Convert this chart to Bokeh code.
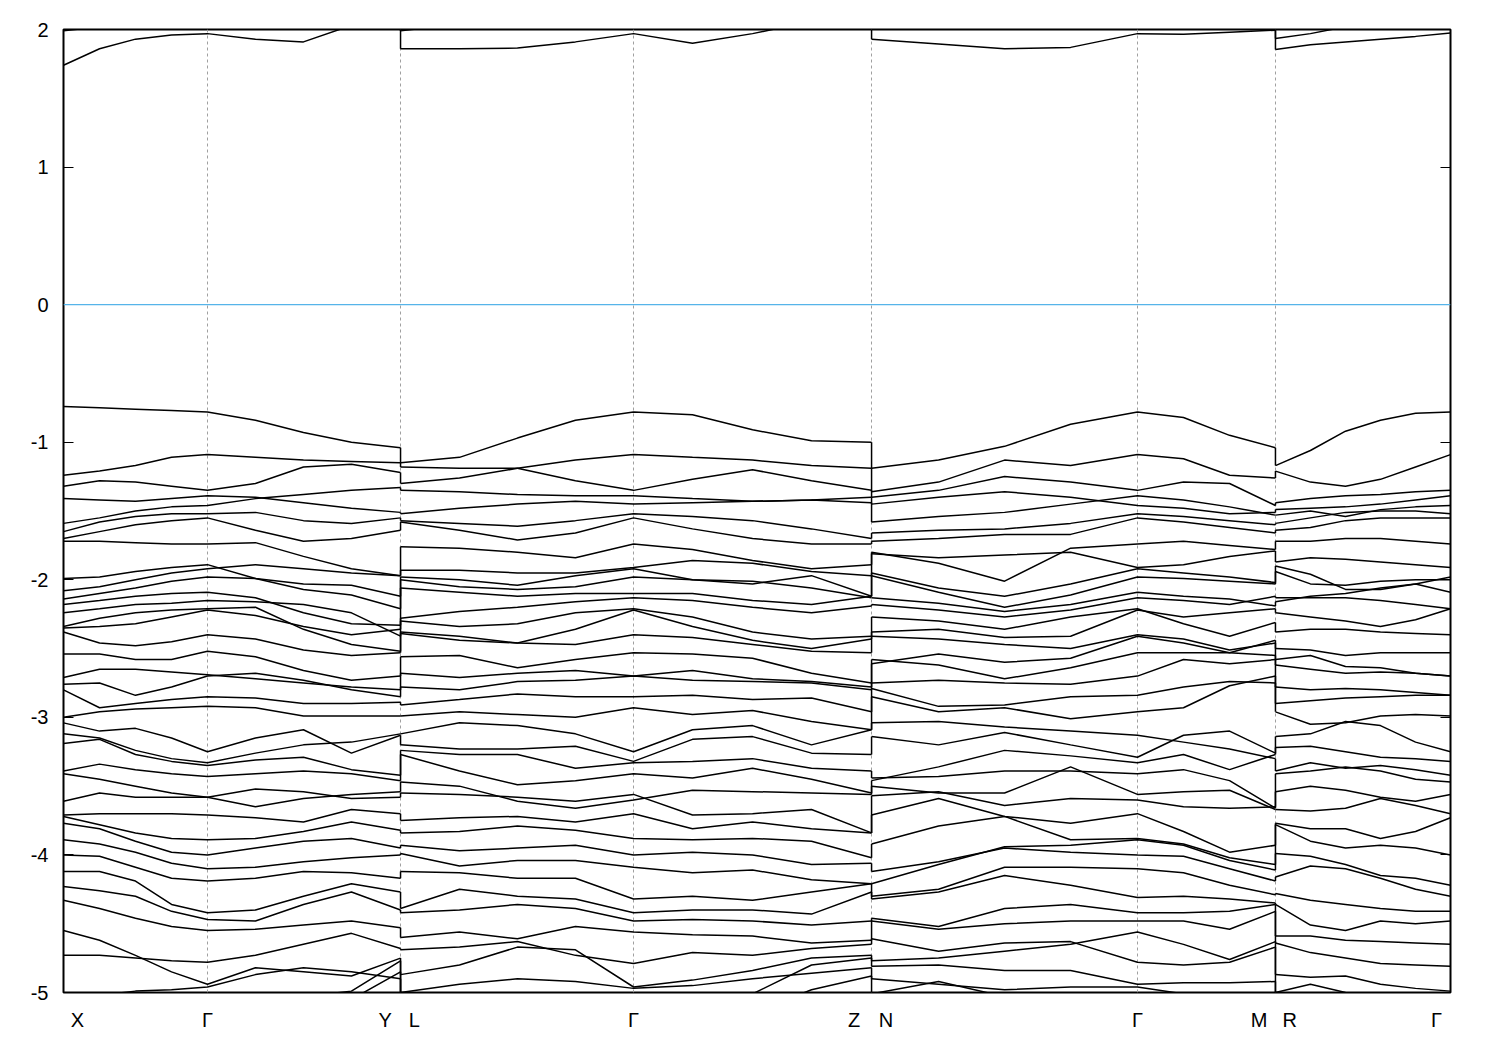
from bokeh.plotting import figure
from bokeh.models import FixedTicker, LinearAxis, Span
from bokeh.embed import file_html
from bokeh.resources import INLINE

# ---- k-path (path coordinate) ----
k_seg1 = [0.0, 0.26, 0.519, 0.779, 1.038, 1.384, 1.730, 2.076, 2.430]      # X - G - Y
k_seg2 = [2.430, 2.855, 3.273, 3.691, 4.110, 4.535, 4.968, 5.393, 5.826]   # L - G - Z
k_seg3 = [5.826, 6.309, 6.785, 7.261, 7.743, 8.075, 8.407, 8.738]          # N - G - M
k_seg4 = [8.738, 8.990, 9.243, 9.495, 9.748, 10.0]                         # R - G

grid_k = [1.038, 2.430, 4.110, 5.826, 7.743, 8.738]
label_k = [0.10, 1.038, 2.32, 2.53, 4.110, 5.70, 5.93, 7.743, 8.62, 8.84, 9.90]
label_txt = ["X", "Γ", "Y", "L", "Γ", "Z", "N", "Γ", "M", "R", "Γ"]
y_ticks = [-5, -4, -3, -2, -1, 0, 1, 2]

# ---- valence bands (eV) ----
seg1_bands = [
    [-0.74,-0.75,-0.76,-0.77,-0.78,-0.84,-0.93,-1.00,-1.04],
    [-1.24,-1.21,-1.17,-1.11,-1.09,-1.11,-1.13,-1.14,-1.15],
    [-1.32,-1.28,-1.29,-1.32,-1.35,-1.30,-1.18,-1.16,-1.22],
    [-1.41,-1.42,-1.43,-1.41,-1.39,-1.40,-1.44,-1.48,-1.51],
    [-1.59,-1.55,-1.50,-1.47,-1.46,-1.41,-1.38,-1.35,-1.33],
    [-1.65,-1.58,-1.54,-1.52,-1.52,-1.51,-1.57,-1.59,-1.55],
    [-1.70,-1.65,-1.60,-1.57,-1.55,-1.64,-1.72,-1.70,-1.64],
    [-1.72,-1.72,-1.73,-1.74,-1.74,-1.73,-1.83,-1.92,-1.97],
    [-1.99,-1.98,-1.94,-1.91,-1.89,-1.99,-2.03,-2.04,-2.12],
    [-2.08,-2.05,-2.00,-1.95,-1.92,-1.89,-1.92,-1.95,-1.97],
    [-2.14,-2.10,-2.06,-2.01,-1.98,-1.99,-2.07,-2.11,-2.21],
    [-2.18,-2.15,-2.12,-2.10,-2.09,-2.13,-2.24,-2.32,-2.33],
    [-2.24,-2.21,-2.18,-2.17,-2.15,-2.16,-2.18,-2.24,-2.41],
    [-2.34,-2.28,-2.24,-2.22,-2.21,-2.20,-2.36,-2.47,-2.52],
    [-2.35,-2.34,-2.32,-2.27,-2.22,-2.26,-2.34,-2.40,-2.36],
    [-2.38,-2.46,-2.48,-2.45,-2.40,-2.43,-2.51,-2.55,-2.53],
    [-2.54,-2.54,-2.58,-2.58,-2.52,-2.56,-2.66,-2.73,-2.70],
    [-2.71,-2.65,-2.65,-2.67,-2.69,-2.72,-2.75,-2.78,-2.80],
    [-2.76,-2.75,-2.84,-2.78,-2.70,-2.68,-2.73,-2.80,-2.85],
    [-2.80,-2.93,-2.90,-2.87,-2.85,-2.86,-2.90,-2.90,-2.89],
    [-3.00,-2.96,-2.94,-2.93,-2.92,-2.93,-2.99,-2.99,-2.99],
    [-3.04,-3.10,-3.08,-3.15,-3.25,-3.15,-3.09,-3.26,-3.13],
    [-3.12,-3.15,-3.24,-3.30,-3.33,-3.26,-3.20,-3.18,-3.12],
    [-3.19,-3.16,-3.27,-3.32,-3.35,-3.31,-3.29,-3.38,-3.42],
    [-3.39,-3.34,-3.38,-3.41,-3.43,-3.41,-3.39,-3.41,-3.46],
    [-3.41,-3.45,-3.50,-3.55,-3.58,-3.52,-3.54,-3.59,-3.58],
    [-3.61,-3.55,-3.58,-3.58,-3.58,-3.65,-3.59,-3.56,-3.54],
    [-3.71,-3.70,-3.70,-3.70,-3.71,-3.73,-3.76,-3.67,-3.70],
    [-3.72,-3.78,-3.84,-3.88,-3.89,-3.88,-3.83,-3.76,-3.82],
    [-3.77,-3.81,-3.90,-3.98,-4.00,-3.95,-3.90,-3.88,-3.95],
    [-3.89,-3.92,-3.98,-4.06,-4.10,-4.09,-4.05,-4.02,-4.00],
    [-4.00,-4.01,-4.09,-4.17,-4.19,-4.17,-4.12,-4.13,-4.17],
    [-4.12,-4.12,-4.19,-4.36,-4.42,-4.40,-4.30,-4.21,-4.27],
    [-4.23,-4.26,-4.30,-4.41,-4.47,-4.48,-4.36,-4.27,-4.40],
    [-4.33,-4.39,-4.46,-4.52,-4.55,-4.54,-4.51,-4.48,-4.53],
    [-4.55,-4.62,-4.73,-4.85,-4.94,-4.82,-4.85,-4.88,-4.75],
    [-4.73,-4.73,-4.75,-4.77,-4.78,-4.73,-4.65,-4.57,-4.68],
    [-5.04,-5.02,-4.99,-4.98,-4.96,-4.87,-4.82,-4.85,-4.90],
    [-5.20,-5.20,-5.20,-5.18,-5.10,-5.06,-5.03,-4.99,-4.77],
    [-5.30,-5.30,-5.28,-5.25,-5.20,-5.15,-5.10,-5.05,-4.85],
]

seg2_bands = [
    [-1.15,-1.11,-0.97,-0.84,-0.78,-0.80,-0.91,-0.99,-1.00],
    [-1.18,-1.19,-1.19,-1.28,-1.35,-1.27,-1.20,-1.28,-1.35],
    [-1.30,-1.26,-1.19,-1.13,-1.09,-1.11,-1.13,-1.17,-1.19],
    [-1.35,-1.36,-1.38,-1.39,-1.39,-1.41,-1.43,-1.42,-1.40],
    [-1.52,-1.48,-1.45,-1.43,-1.45,-1.44,-1.43,-1.42,-1.44],
    [-1.57,-1.59,-1.61,-1.57,-1.52,-1.54,-1.57,-1.63,-1.70],
    [-1.58,-1.64,-1.71,-1.66,-1.55,-1.63,-1.70,-1.74,-1.74],
    [-1.76,-1.77,-1.80,-1.84,-1.74,-1.78,-1.86,-1.92,-1.89],
    [-1.93,-1.93,-1.95,-1.95,-1.91,-1.86,-1.88,-1.94,-1.97],
    [-1.98,-2.00,-2.04,-1.97,-1.92,-2.00,-2.03,-1.97,-2.12],
    [-2.00,-2.05,-2.07,-2.05,-1.98,-2.00,-2.01,-2.06,-2.13],
    [-2.06,-2.09,-2.12,-2.10,-2.10,-2.10,-2.15,-2.18,-2.12],
    [-2.28,-2.23,-2.20,-2.16,-2.13,-2.15,-2.20,-2.24,-2.19],
    [-2.30,-2.34,-2.32,-2.24,-2.21,-2.27,-2.38,-2.43,-2.41],
    [-2.38,-2.41,-2.46,-2.36,-2.22,-2.34,-2.44,-2.50,-2.43],
    [-2.39,-2.44,-2.46,-2.47,-2.40,-2.42,-2.47,-2.52,-2.53],
    [-2.56,-2.55,-2.64,-2.58,-2.53,-2.54,-2.57,-2.68,-2.75],
    [-2.68,-2.71,-2.68,-2.66,-2.70,-2.66,-2.72,-2.74,-2.78],
    [-2.78,-2.80,-2.74,-2.73,-2.70,-2.73,-2.74,-2.75,-2.80],
    [-2.91,-2.87,-2.83,-2.85,-2.85,-2.84,-2.87,-2.86,-2.96],
    [-2.99,-2.96,-2.98,-3.00,-2.93,-2.98,-2.95,-3.03,-3.09],
    [-3.12,-3.04,-3.06,-3.12,-3.25,-3.09,-3.06,-3.20,-3.09],
    [-3.20,-3.23,-3.23,-3.21,-3.32,-3.16,-3.14,-3.26,-3.27],
    [-3.24,-3.27,-3.27,-3.37,-3.33,-3.32,-3.30,-3.37,-3.39],
    [-3.27,-3.39,-3.49,-3.46,-3.41,-3.44,-3.37,-3.45,-3.55],
    [-3.47,-3.50,-3.61,-3.66,-3.60,-3.53,-3.54,-3.55,-3.56],
    [-3.55,-3.56,-3.58,-3.61,-3.56,-3.71,-3.70,-3.67,-3.84],
    [-3.75,-3.73,-3.72,-3.76,-3.70,-3.81,-3.76,-3.81,-3.84],
    [-3.84,-3.83,-3.79,-3.82,-3.88,-3.89,-3.88,-3.90,-4.02],
    [-3.93,-3.97,-3.95,-3.93,-4.00,-3.98,-4.00,-4.07,-4.06],
    [-3.99,-4.08,-4.04,-4.04,-4.09,-4.13,-4.11,-4.18,-4.21],
    [-4.12,-4.13,-4.17,-4.17,-4.32,-4.30,-4.33,-4.27,-4.21],
    [-4.39,-4.25,-4.30,-4.32,-4.42,-4.40,-4.40,-4.43,-4.27],
    [-4.42,-4.40,-4.36,-4.39,-4.48,-4.47,-4.48,-4.51,-4.48],
    [-4.60,-4.56,-4.61,-4.52,-4.56,-4.58,-4.59,-4.64,-4.62],
    [-4.69,-4.67,-4.63,-4.73,-4.79,-4.71,-4.73,-4.68,-4.65],
    [-4.87,-4.80,-4.67,-4.69,-4.96,-4.91,-4.84,-4.75,-4.73],
    [-5.00,-4.94,-4.90,-4.92,-4.97,-4.95,-4.90,-4.86,-4.82],
    [-5.20,-5.20,-5.20,-5.20,-5.20,-5.10,-5.01,-4.80,-4.75],
    [-5.30,-5.30,-5.30,-5.30,-5.30,-5.25,-5.15,-4.98,-4.88],
]

seg3_bands = [
    [-1.19,-1.13,-1.03,-0.87,-0.78,-0.82,-0.95,-1.04],
    [-1.36,-1.29,-1.13,-1.17,-1.09,-1.12,-1.24,-1.26],
    [-1.40,-1.35,-1.25,-1.29,-1.35,-1.29,-1.30,-1.46],
    [-1.58,-1.54,-1.51,-1.45,-1.39,-1.42,-1.47,-1.53],
    [-1.45,-1.40,-1.36,-1.40,-1.46,-1.48,-1.52,-1.51],
    [-1.66,-1.64,-1.63,-1.59,-1.52,-1.54,-1.57,-1.60],
    [-1.72,-1.70,-1.67,-1.67,-1.55,-1.58,-1.62,-1.66],
    [-1.80,-1.88,-2.01,-1.77,-1.74,-1.72,-1.75,-1.78],
    [-1.81,-1.84,-1.82,-1.80,-1.91,-1.89,-1.83,-1.79],
    [-1.95,-2.06,-2.12,-2.03,-1.92,-1.95,-1.98,-2.02],
    [-1.97,-2.09,-2.20,-2.11,-1.98,-1.99,-2.01,-2.03],
    [-2.13,-2.17,-2.23,-2.18,-2.09,-2.12,-2.14,-2.19],
    [-2.18,-2.22,-2.27,-2.22,-2.13,-2.15,-2.18,-2.12],
    [-2.27,-2.30,-2.36,-2.27,-2.21,-2.32,-2.41,-2.31],
    [-2.38,-2.36,-2.42,-2.41,-2.22,-2.27,-2.24,-2.21],
    [-2.41,-2.43,-2.47,-2.50,-2.40,-2.43,-2.51,-2.46],
    [-2.61,-2.54,-2.60,-2.57,-2.41,-2.46,-2.53,-2.44],
    [-2.58,-2.62,-2.72,-2.64,-2.53,-2.53,-2.53,-2.55],
    [-2.75,-2.73,-2.75,-2.76,-2.70,-2.58,-2.61,-2.58],
    [-2.79,-2.92,-2.91,-2.85,-2.84,-2.78,-2.74,-2.75],
    [-2.85,-2.96,-2.93,-3.01,-2.96,-2.93,-2.77,-2.70],
    [-3.04,-3.03,-3.07,-3.10,-3.13,-3.18,-3.23,-3.30],
    [-3.14,-3.20,-3.11,-3.20,-3.29,-3.13,-3.10,-3.26],
    [-3.46,-3.36,-3.24,-3.28,-3.33,-3.27,-3.38,-3.27],
    [-3.44,-3.43,-3.39,-3.39,-3.41,-3.38,-3.46,-3.66],
    [-3.50,-3.55,-3.55,-3.36,-3.56,-3.54,-3.53,-3.67],
    [-3.57,-3.54,-3.64,-3.59,-3.60,-3.65,-3.66,-3.65],
    [-3.71,-3.59,-3.72,-3.77,-3.70,-3.83,-3.98,-3.93],
    [-3.92,-3.79,-3.72,-3.89,-3.88,-3.92,-4.02,-4.07],
    [-4.21,-4.07,-3.94,-3.93,-3.89,-3.93,-4.04,-4.11],
    [-4.12,-4.05,-3.95,-3.98,-4.00,-4.01,-4.10,-4.19],
    [-4.30,-4.25,-4.09,-4.09,-4.10,-4.13,-4.22,-4.29],
    [-4.32,-4.27,-4.15,-4.22,-4.31,-4.30,-4.32,-4.35],
    [-4.46,-4.52,-4.39,-4.36,-4.42,-4.42,-4.41,-4.36],
    [-4.48,-4.54,-4.50,-4.48,-4.48,-4.48,-4.54,-4.41],
    [-4.77,-4.75,-4.70,-4.65,-4.56,-4.65,-4.76,-4.63],
    [-4.61,-4.70,-4.64,-4.63,-4.78,-4.80,-4.78,-4.67],
    [-4.81,-4.80,-4.84,-4.84,-4.94,-4.93,-4.93,-4.92],
    [-4.90,-4.94,-4.98,-4.96,-4.96,-5.01,-5.03,-5.03],
    [-5.01,-4.92,-5.03,-5.07,-5.04,-5.06,-5.05,-5.03],
]

seg4_bands = [
    [-1.17,-1.06,-0.92,-0.84,-0.79,-0.78],
    [-1.21,-1.29,-1.32,-1.27,-1.18,-1.09],
    [-1.44,-1.41,-1.39,-1.38,-1.36,-1.35],
    [-1.49,-1.48,-1.47,-1.45,-1.42,-1.39],
    [-1.53,-1.50,-1.54,-1.49,-1.47,-1.46],
    [-1.59,-1.55,-1.51,-1.50,-1.50,-1.52],
    [-1.64,-1.62,-1.57,-1.55,-1.55,-1.55],
    [-1.72,-1.72,-1.70,-1.70,-1.72,-1.74],
    [-1.87,-1.84,-1.85,-1.87,-1.89,-1.91],
    [-1.90,-1.96,-2.07,-2.07,-2.03,-1.98],
    [-1.94,-2.03,-2.04,-2.01,-2.00,-2.00],
    [-2.13,-2.13,-2.13,-2.15,-2.18,-2.21],
    [-2.16,-2.12,-2.10,-2.06,-2.03,-2.09],
    [-2.24,-2.27,-2.30,-2.34,-2.29,-2.21],
    [-2.38,-2.36,-2.36,-2.38,-2.39,-2.40],
    [-2.50,-2.51,-2.55,-2.53,-2.53,-2.53],
    [-2.58,-2.55,-2.63,-2.64,-2.68,-2.70],
    [-2.62,-2.65,-2.68,-2.67,-2.68,-2.70],
    [-2.78,-2.80,-2.79,-2.80,-2.82,-2.84],
    [-2.90,-2.88,-2.86,-2.85,-2.84,-2.84],
    [-2.96,-3.05,-3.04,-2.99,-2.98,-2.99],
    [-3.14,-3.12,-3.03,-3.06,-3.18,-3.25],
    [-3.22,-3.21,-3.25,-3.29,-3.30,-3.32],
    [-3.39,-3.33,-3.37,-3.35,-3.38,-3.42],
    [-3.41,-3.39,-3.36,-3.39,-3.45,-3.47],
    [-3.54,-3.50,-3.53,-3.58,-3.61,-3.56],
    [-3.67,-3.68,-3.66,-3.59,-3.64,-3.70],
    [-3.77,-3.81,-3.81,-3.88,-3.83,-3.73],
    [-3.78,-3.90,-3.95,-3.93,-3.95,-4.00],
    [-3.99,-4.01,-4.07,-4.15,-4.17,-4.22],
    [-4.16,-4.08,-4.10,-4.17,-4.25,-4.30],
    [-4.28,-4.33,-4.36,-4.39,-4.41,-4.41],
    [-4.36,-4.51,-4.55,-4.48,-4.50,-4.48],
    [-4.59,-4.59,-4.62,-4.63,-4.64,-4.65],
    [-4.64,-4.71,-4.75,-4.79,-4.80,-4.81],
    [-4.87,-4.89,-4.88,-4.94,-4.97,-4.99],
    [-5.00,-4.94,-5.00,-5.05,-5.07,-5.08],
    [-5.10,-5.08,-5.03,-5.10,-5.12,-5.15],
    [-5.20,-5.18,-5.15,-5.12,-5.10,-5.08],
    [-5.30,-5.28,-5.25,-5.22,-5.20,-5.18],
]

# ---- conduction bands (eV) ----
seg1_cond = [[1.74, 1.86, 1.93, 1.96, 1.97, 1.93, 1.91, 2.03, 2.12],
             [1.99, 2.02, 2.06, 2.10, 2.12, 2.15, 2.18, 2.20, 2.22]]
seg2_cond = [[1.86, 1.86, 1.865, 1.91, 1.97, 1.90, 1.97, 2.06, 2.12],
             [1.99, 2.04, 2.08, 2.10, 2.12, 2.15, 2.17, 2.19, 2.21]]
seg3_cond = [[1.93, 1.895, 1.86, 1.87, 1.97, 1.965, 1.98, 1.995],
             [2.08, 2.10, 2.12, 2.10, 2.05, 2.06, 2.08, 2.10]]
seg4_cond = [[1.855, 1.89, 1.91, 1.93, 1.95, 1.975],
             [1.935, 1.97, 2.02, 2.06, 2.10, 2.12]]

segments = [(k_seg1, seg1_bands + seg1_cond),
            (k_seg2, seg2_bands + seg2_cond),
            (k_seg3, seg3_bands + seg3_cond),
            (k_seg4, seg4_bands + seg4_cond)]

FONT = "Liberation Sans"

p = figure(frame_width=1387, frame_height=963, x_range=(0, 10), y_range=(-5, 2),
           output_backend="svg", toolbar_location=None,
           min_border_left=63, min_border_top=29, min_border_right=30, min_border_bottom=50)
p.background_fill_color = "white"
p.border_fill_color = "white"
p.outline_line_color = "black"
p.outline_line_width = 2

# grid: dashed verticals at high-symmetry points
p.ygrid.grid_line_color = None
p.xgrid.ticker = FixedTicker(ticks=grid_k)
p.xgrid.grid_line_color = "#a0a0a0"
p.xgrid.grid_line_dash = "3 3"
p.xgrid.grid_line_width = 1

# Fermi level
p.add_layout(Span(location=0, dimension="width", line_color="#56b4e9", line_width=1.3))

# bands
for ks, bands in segments:
    p.multi_line(xs=[ks] * len(bands), ys=bands, line_color="black", line_width=1.5)

# vertical joins where the path jumps (band i end -> band i start)
for (ka, ba), (kb, bb) in zip(segments[:-1], segments[1:]):
    ends = sorted(b[-1] for b in ba)
    starts = sorted(b[0] for b in bb)
    p.multi_line(xs=[[ka[-1], kb[0]]] * len(ends), ys=[[e, s] for e, s in zip(ends, starts)],
                 line_color="black", line_width=1.5)

# x axis labels
xa = p.xaxis[0]
xa.ticker = FixedTicker(ticks=label_k)
xa.major_label_overrides = {k: t for k, t in zip(label_k, label_txt)}
xa.major_tick_in = 0
xa.major_tick_out = 0
xa.minor_tick_line_color = None
xa.axis_line_color = None
xa.major_label_text_font = FONT
xa.major_label_text_font_size = "20px"
xa.major_label_text_color = "black"
xa.major_label_standoff = 16

# y axis
ya = p.yaxis[0]
ya.ticker = FixedTicker(ticks=y_ticks)
ya.major_label_overrides = {v: str(v) for v in y_ticks}
ya.major_tick_in = 10
ya.major_tick_out = 0
ya.minor_tick_line_color = None
ya.axis_line_color = None
ya.major_label_text_font = FONT
ya.major_label_text_font_size = "20px"
ya.major_label_text_color = "black"
ya.major_label_standoff = 15

ra = LinearAxis(ticker=FixedTicker(ticks=y_ticks))
ra.major_label_overrides = {v: "" for v in y_ticks}
ra.major_tick_in = 10
ra.major_tick_out = 0
ra.minor_tick_line_color = None
ra.axis_line_color = None
p.add_layout(ra, "right")

open("out.html", "w").write(file_html(p, INLINE))
